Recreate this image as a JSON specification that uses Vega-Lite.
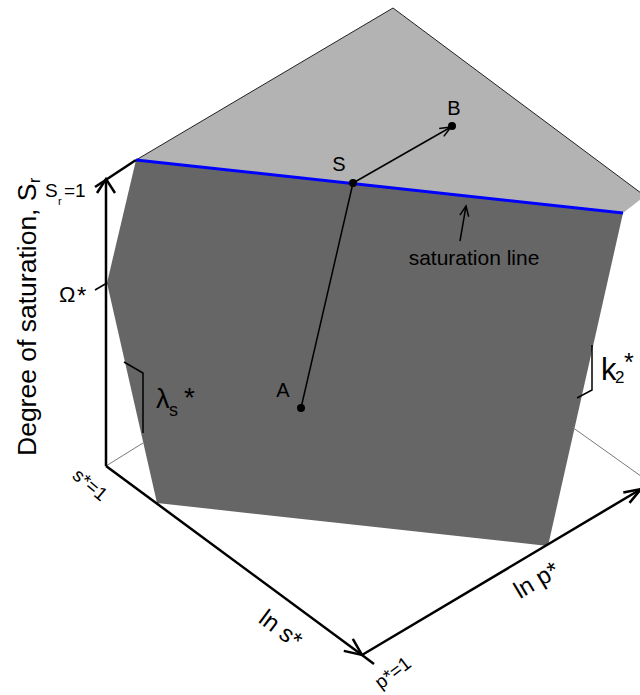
{
  "$schema": "https://vega.github.io/schema/vega-lite/v6.json",
  "width": 640,
  "height": 695,
  "padding": 0,
  "autosize": {"type": "none"},
  "config": {"view": {"stroke": null}, "text": {"font": "Liberation Sans", "color": "#000000"}},
  "datasets": {
    "polys": [
      {"poly": "light", "ord": 1, "x": 136, "y": 160},
      {"poly": "light", "ord": 2, "x": 393, "y": 8},
      {"poly": "light", "ord": 3, "x": 645, "y": 196},
      {"poly": "light", "ord": 4, "x": 623, "y": 213},
      {"poly": "dark", "ord": 1, "x": 136, "y": 160},
      {"poly": "dark", "ord": 2, "x": 623, "y": 213},
      {"poly": "dark", "ord": 3, "x": 548, "y": 546},
      {"poly": "dark", "ord": 4, "x": 157, "y": 503},
      {"poly": "dark", "ord": 5, "x": 107, "y": 283}
    ],
    "outline": [
      {"id": "top", "ord": 1, "x": 136, "y": 160},
      {"id": "top", "ord": 2, "x": 393, "y": 8},
      {"id": "top", "ord": 3, "x": 645, "y": 196}
    ],
    "gray": [
      {"id": "g1", "ord": 1, "x": 106, "y": 466},
      {"id": "g1", "ord": 2, "x": 143, "y": 443},
      {"id": "g2", "ord": 1, "x": 572, "y": 427},
      {"id": "g2", "ord": 2, "x": 645, "y": 479}
    ],
    "blue": [
      {"id": "sat", "ord": 1, "x": 136, "y": 160},
      {"id": "sat", "ord": 2, "x": 623, "y": 213}
    ],
    "thick": [
      {"id": "vaxis", "ord": 1, "x": 106, "y": 466},
      {"id": "vaxis", "ord": 2, "x": 106, "y": 180},
      {"id": "vhead", "ord": 1, "x": 97, "y": 193},
      {"id": "vhead", "ord": 2, "x": 106, "y": 179},
      {"id": "vhead", "ord": 3, "x": 115, "y": 193},
      {"id": "toptick", "ord": 1, "x": 95, "y": 187},
      {"id": "toptick", "ord": 2, "x": 136, "y": 160},
      {"id": "saxis", "ord": 1, "x": 106, "y": 466},
      {"id": "saxis", "ord": 2, "x": 362, "y": 655},
      {"id": "shead", "ord": 1, "x": 343.8, "y": 650.9},
      {"id": "shead", "ord": 2, "x": 362, "y": 655},
      {"id": "shead", "ord": 3, "x": 352.8, "y": 638.9},
      {"id": "paxis", "ord": 1, "x": 362, "y": 655},
      {"id": "paxis", "ord": 2, "x": 641, "y": 489},
      {"id": "phead", "ord": 1, "x": 629.5, "y": 502.9},
      {"id": "phead", "ord": 2, "x": 641, "y": 489},
      {"id": "phead", "ord": 3, "x": 623.3, "y": 492.5},
      {"id": "ptick", "ord": 1, "x": 362, "y": 655},
      {"id": "ptick", "ord": 2, "x": 374, "y": 664}
    ],
    "thin": [
      {"id": "AS", "ord": 1, "x": 301, "y": 408},
      {"id": "AS", "ord": 2, "x": 353, "y": 183},
      {"id": "SB", "ord": 1, "x": 353, "y": 183},
      {"id": "SB", "ord": 2, "x": 451, "y": 127},
      {"id": "SBhead", "ord": 1, "x": 443.8, "y": 136.4},
      {"id": "SBhead", "ord": 2, "x": 451, "y": 127},
      {"id": "SBhead", "ord": 3, "x": 439.2, "y": 128.6},
      {"id": "satarrow", "ord": 1, "x": 460, "y": 241},
      {"id": "satarrow", "ord": 2, "x": 466, "y": 206},
      {"id": "sathead", "ord": 1, "x": 468.7, "y": 216.7},
      {"id": "sathead", "ord": 2, "x": 466, "y": 206},
      {"id": "sathead", "ord": 3, "x": 459.9, "y": 215.1},
      {"id": "lam", "ord": 1, "x": 124, "y": 362},
      {"id": "lam", "ord": 2, "x": 143, "y": 373},
      {"id": "lam", "ord": 3, "x": 143, "y": 433},
      {"id": "k2", "ord": 1, "x": 592, "y": 345},
      {"id": "k2", "ord": 2, "x": 592, "y": 390},
      {"id": "k2", "ord": 3, "x": 577, "y": 398},
      {"id": "omega", "ord": 1, "x": 95, "y": 290},
      {"id": "omega", "ord": 2, "x": 107, "y": 283}
    ],
    "pts": [
      {"name": "A", "x": 301, "y": 408},
      {"name": "S", "x": 353, "y": 183},
      {"name": "B", "x": 452, "y": 126}
    ]
  },
  "encoding": {
    "x": {"field": "x", "type": "quantitative", "axis": null, "scale": {"domain": [0, 640], "nice": false, "zero": false}},
    "y": {"field": "y", "type": "quantitative", "axis": null, "scale": {"domain": [0, 695], "nice": false, "zero": false, "reverse": true}}
  },
  "layer": [
    {"data": {"name": "polys"}, "transform": [{"filter": "datum.poly == 'light'"}],
     "mark": {"type": "line", "interpolate": "linear-closed", "fill": "#b3b3b3", "stroke": null},
     "encoding": {"order": {"field": "ord", "type": "quantitative"}}},
    {"data": {"name": "polys"}, "transform": [{"filter": "datum.poly == 'dark'"}],
     "mark": {"type": "line", "interpolate": "linear-closed", "fill": "#666666", "stroke": null},
     "encoding": {"order": {"field": "ord", "type": "quantitative"}}},
    {"data": {"name": "outline"}, "mark": {"type": "line", "color": "#222222", "strokeWidth": 1},
     "encoding": {"detail": {"field": "id"}, "order": {"field": "ord", "type": "quantitative"}}},
    {"data": {"name": "gray"}, "mark": {"type": "line", "color": "#7a7a7a", "strokeWidth": 1},
     "encoding": {"detail": {"field": "id"}, "order": {"field": "ord", "type": "quantitative"}}},
    {"data": {"name": "blue"}, "mark": {"type": "line", "color": "#0000ff", "strokeWidth": 3},
     "encoding": {"detail": {"field": "id"}, "order": {"field": "ord", "type": "quantitative"}}},
    {"data": {"name": "thick"}, "mark": {"type": "line", "color": "#000000", "strokeWidth": 2.5, "strokeJoin": "miter"},
     "encoding": {"detail": {"field": "id"}, "order": {"field": "ord", "type": "quantitative"}}},
    {"data": {"name": "thin"}, "mark": {"type": "line", "color": "#000000", "strokeWidth": 1.5},
     "encoding": {"detail": {"field": "id"}, "order": {"field": "ord", "type": "quantitative"}}},
    {"data": {"name": "pts"}, "mark": {"type": "point", "filled": true, "color": "#000000", "size": 65, "opacity": 1}},
    {"data": {"values": [{"t": "A", "x": 283, "y": 397}, {"t": "S", "x": 339, "y": 171}, {"t": "B", "x": 454, "y": 115}]},
     "mark": {"type": "text", "fontSize": 20, "align": "center", "baseline": "alphabetic"},
     "encoding": {"text": {"field": "t"}}},
    {"data": {"values": [{"t": "saturation line", "x": 474, "y": 265}]},
     "mark": {"type": "text", "fontSize": 21, "align": "center", "baseline": "alphabetic"},
     "encoding": {"text": {"field": "t"}}},
    {"data": {"values": [{"t": "Degree of saturation, S", "x": 36, "y": 456}]},
     "mark": {"type": "text", "fontSize": 26.5, "angle": 270, "align": "left", "baseline": "alphabetic"},
     "encoding": {"text": {"field": "t"}}},
    {"data": {"values": [{"t": "r", "x": 40, "y": 183}]},
     "mark": {"type": "text", "fontSize": 16, "angle": 270, "align": "left", "baseline": "alphabetic"},
     "encoding": {"text": {"field": "t"}}},
    {"data": {"values": [{"t": "S", "x": 45, "y": 197}, {"t": "=1", "x": 64, "y": 197}]},
     "mark": {"type": "text", "fontSize": 19, "align": "left", "baseline": "alphabetic"},
     "encoding": {"text": {"field": "t"}}},
    {"data": {"values": [{"t": "r", "x": 58, "y": 205}]},
     "mark": {"type": "text", "fontSize": 11, "align": "left", "baseline": "alphabetic"},
     "encoding": {"text": {"field": "t"}}},
    {"data": {"values": [{"t": "Ω", "x": 59, "y": 302}]},
     "mark": {"type": "text", "fontSize": 22, "align": "left", "baseline": "alphabetic"},
     "encoding": {"text": {"field": "t"}}},
    {"data": {"values": [{"t": "*", "x": 77, "y": 304}]},
     "mark": {"type": "text", "fontSize": 24, "align": "left", "baseline": "alphabetic"},
     "encoding": {"text": {"field": "t"}}},
    {"data": {"values": [{"t": "λ", "x": 156, "y": 408}]},
     "mark": {"type": "text", "fontSize": 27, "align": "left", "baseline": "alphabetic"},
     "encoding": {"text": {"field": "t"}}},
    {"data": {"values": [{"t": "s", "x": 169, "y": 416}]},
     "mark": {"type": "text", "fontSize": 18, "align": "left", "baseline": "alphabetic"},
     "encoding": {"text": {"field": "t"}}},
    {"data": {"values": [{"t": "*", "x": 184, "y": 407}]},
     "mark": {"type": "text", "fontSize": 28, "align": "left", "baseline": "alphabetic"},
     "encoding": {"text": {"field": "t"}}},
    {"data": {"values": [{"t": "k", "x": 601, "y": 380}]},
     "mark": {"type": "text", "fontSize": 31, "align": "left", "baseline": "alphabetic"},
     "encoding": {"text": {"field": "t"}}},
    {"data": {"values": [{"t": "2", "x": 615, "y": 383}]},
     "mark": {"type": "text", "fontSize": 17, "align": "left", "baseline": "alphabetic"},
     "encoding": {"text": {"field": "t"}}},
    {"data": {"values": [{"t": "*", "x": 624, "y": 371}]},
     "mark": {"type": "text", "fontSize": 25, "align": "left", "baseline": "alphabetic"},
     "encoding": {"text": {"field": "t"}}},
    {"data": {"values": [{"t": "ln s*", "x": 280, "y": 630}]},
     "mark": {"type": "text", "fontSize": 24, "angle": 37, "align": "center", "baseline": "middle"},
     "encoding": {"text": {"field": "t"}}},
    {"data": {"values": [{"t": "ln p*", "x": 537, "y": 581}]},
     "mark": {"type": "text", "fontSize": 24, "angle": 329, "align": "center", "baseline": "middle"},
     "encoding": {"text": {"field": "t"}}},
    {"data": {"values": [{"t": "p*=1", "x": 393, "y": 673}]},
     "mark": {"type": "text", "fontSize": 19, "angle": 323, "align": "center", "baseline": "middle"},
     "encoding": {"text": {"field": "t"}}},
    {"data": {"values": [{"t": "s*=1", "x": 90, "y": 485}]},
     "mark": {"type": "text", "fontSize": 19, "angle": 40, "align": "center", "baseline": "middle"},
     "encoding": {"text": {"field": "t"}}}
  ]
}
